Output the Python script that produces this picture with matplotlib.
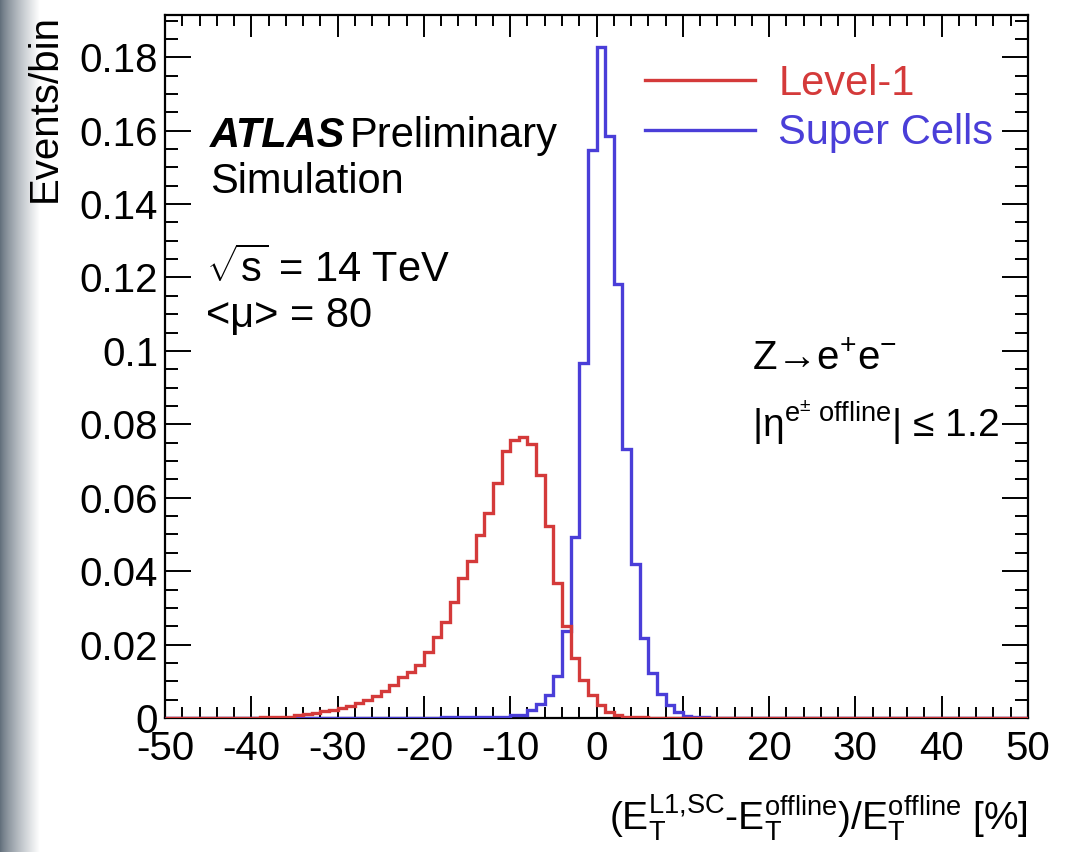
import matplotlib
matplotlib.use("Agg")
import matplotlib.pyplot as plt
import numpy as np
from matplotlib.ticker import MultipleLocator, FuncFormatter

plt.rcParams['font.family'] = ['Liberation Sans', 'DejaVu Sans']
plt.rcParams['mathtext.fontset'] = 'custom'
plt.rcParams['mathtext.rm'] = 'Liberation Sans'
plt.rcParams['mathtext.it'] = 'Liberation Sans:italic'
plt.rcParams['mathtext.bf'] = 'Liberation Sans:bold'
plt.rcParams['mathtext.default'] = 'regular'
plt.rcParams['axes.unicode_minus'] = False

# bin edges in % (1% wide bins from -50 to 50)
bordas = np.arange(-50, 51, 1)

# Level-1 (red), one value per bin
level1 = [
    0, 0, 0, 0, 0, 0, 0, 0, 0, 0,                                            # -50 .. -41
    0.0001, 0.0002, 0.0002, 0.0003, 0.0004, 0.0007, 0.0010, 0.0014, 0.0018, 0.0023,  # -40 .. -31
    0.0028, 0.0034, 0.0041, 0.0049, 0.0060, 0.0074, 0.0090, 0.0113, 0.0126, 0.0144,  # -30 .. -21
    0.0181, 0.0222, 0.0262, 0.0317, 0.0381, 0.0429, 0.0499, 0.0558, 0.0641, 0.0726,  # -20 .. -11
    0.0757, 0.0765, 0.0747, 0.0662, 0.0523, 0.0369, 0.0251, 0.0163, 0.0104, 0.0063,  # -10 .. -1
    0.0035, 0.0015, 0.0008, 0.0004, 0.0003, 0.0002, 0.0001, 0.0001, 0, 0,           # 0 .. 9
    0, 0, 0, 0, 0, 0, 0, 0, 0, 0,
    0, 0, 0, 0, 0, 0, 0, 0, 0, 0,
    0, 0, 0, 0, 0, 0, 0, 0, 0, 0,
    0, 0, 0, 0, 0, 0, 0, 0, 0, 0,
]

# Super Cells (blue)
superCells = [
    0, 0, 0, 0, 0, 0, 0, 0, 0, 0,
    0, 0, 0, 0, 0, 0, 0, 0, 0, 0,
    0, 0, 0, 0, 0, 0, 0, 0, 0, 0,
    0, 0, 0.0003, 0.0003, 0.0003, 0.0003, 0.0003, 0.0003, 0.0003, 0.0003,          # -20 .. -11
    0.0008, 0.0008, 0.0022, 0.0038, 0.0064, 0.0115, 0.0236, 0.0494, 0.0966, 0.1548,  # -10 .. -1
    0.1827, 0.1586, 0.1182, 0.0732, 0.0420, 0.0217, 0.0122, 0.0065, 0.0035, 0.0015,  # 0 .. 9
    0.0006, 0.0003, 0.0002, 0, 0, 0, 0, 0, 0, 0,
    0, 0, 0, 0, 0, 0, 0, 0, 0, 0,
    0, 0, 0, 0, 0, 0, 0, 0, 0, 0,
    0, 0, 0, 0, 0, 0, 0, 0, 0, 0,
]

labels = ["Level-1", "Super Cells"]
corVermelha = "#d43a3a"
corAzul = "#4a3ed8"

W, H = 1074, 852
fig = plt.figure(figsize=(W / 100, H / 100), dpi=100)

# screenshot shadow on the left edge
gax = fig.add_axes([0, 0, 40 / W, 1])
grad = np.linspace(0, 1, 80) ** 0.8
img = np.zeros((2, 80, 3))
base = np.array([0.38, 0.43, 0.48])
for k in range(3):
    img[:, :, k] = base[k] + (1 - base[k]) * grad
gax.imshow(img, aspect='auto', extent=[0, 1, 0, 1])
gax.axis('off')

ax = fig.add_axes([165 / W, 1 - 718 / H, 863 / W, 703 / H])
ax.patch.set_alpha(0)

ax.stairs(superCells, bordas, color=corAzul, linewidth=2.4, baseline=None,
          label=labels[1], zorder=3)
ax.stairs(level1, bordas, color=corVermelha, linewidth=2.4, baseline=None,
          label=labels[0], zorder=3.1)

ax.set_xlim(-50, 50)
ax.set_ylim(0, 0.1915)

ax.xaxis.set_major_locator(MultipleLocator(10))
ax.xaxis.set_minor_locator(MultipleLocator(2))
ax.yaxis.set_major_locator(MultipleLocator(0.02))
ax.yaxis.set_minor_locator(MultipleLocator(0.005))
ax.yaxis.set_major_formatter(FuncFormatter(lambda v, p: f"{v:g}"))

ax.tick_params(axis='both', which='both', direction='in', top=True, right=True,
               width=1.4, labelsize=29)
ax.tick_params(axis='x', which='major', length=16, pad=9)
ax.tick_params(axis='x', which='minor', length=8)
ax.tick_params(axis='y', which='major', length=19, pad=5)
ax.tick_params(axis='y', which='minor', length=9.5)
for s in ax.spines.values():
    s.set_linewidth(1.6)

# legend
h, l = ax.get_legend_handles_labels()
ax.legend([h[1], h[0]], [l[1], l[0]], loc='upper left',
          bbox_to_anchor=((645 - 165) / 863, (718 - 64) / 703),
          frameon=False, fontsize=30, labelcolor='linecolor',
          handlelength=2.65, handletextpad=0.55, labelspacing=0.22,
          borderpad=0, borderaxespad=0)

def ax_x(px):
    return (px - 165) / 863

def ax_y(py):
    return (718 - py) / 703

fs = 30
ax.text(ax_x(210), ax_y(147), "ATLAS", transform=ax.transAxes, fontsize=fs,
        fontweight='bold', style='italic', va='baseline')
ax.text(ax_x(350), ax_y(147), "Preliminary", transform=ax.transAxes, fontsize=fs,
        va='baseline')
ax.text(ax_x(210), ax_y(193), "Simulation", transform=ax.transAxes, fontsize=fs,
        va='baseline')
ax.text(ax_x(206), ax_y(282), r"$\sqrt{s}$ = 14 TeV", transform=ax.transAxes,
        fontsize=fs, va='baseline')
ax.text(ax_x(206), ax_y(327), "<μ> = 80", transform=ax.transAxes, fontsize=fs,
        va='baseline')
ax.text(ax_x(752), ax_y(370), r"Z→e$^{+}$e$^{-}$", transform=ax.transAxes,
        fontsize=29, va='baseline')
ax.text(ax_x(752), ax_y(437), r"|$\eta^{e^{\pm}\ offline}$| ≤ 1.2",
        transform=ax.transAxes, fontsize=28, va='baseline')

# axis titles (ROOT style, right/top aligned)
fig.text(45 / W, 1 - 14 / H, "Events/bin", rotation=90, ha='center', va='top',
         fontsize=29)
ax.text(1.0, ax_y(830), r"(E$_{T}^{L1{,}SC}$-E$_{T}^{offline}$)/E$_{T}^{offline}$ [%]",
        transform=ax.transAxes, ha='right', va='baseline', fontsize=28)

fig.savefig("out.png", dpi=100)
